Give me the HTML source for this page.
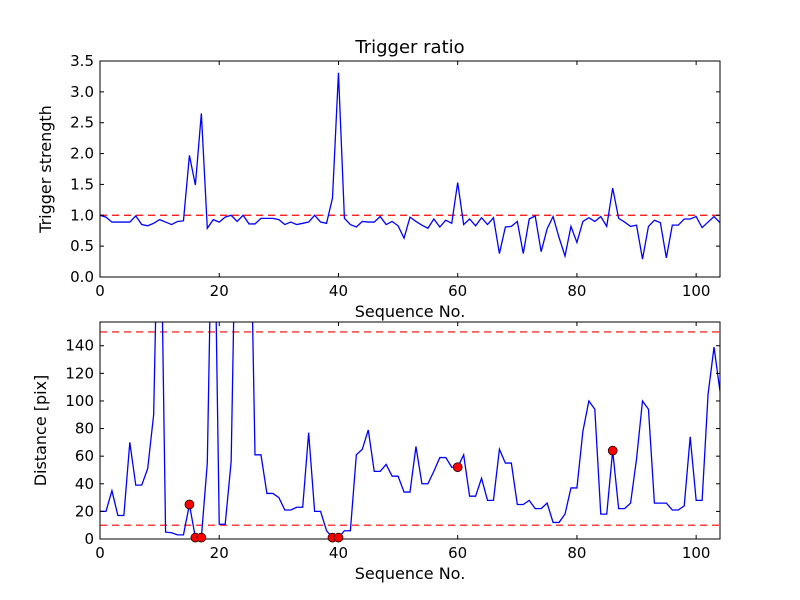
<!DOCTYPE html>
<html><head><meta charset="utf-8"><style>
body{margin:0;background:#fff;}
svg{display:block;font-family:"DejaVu Sans","Liberation Sans",sans-serif;}
</style></head><body>
<svg id="chart" width="800" height="600" viewBox="0 0 800 600">
<defs>
<clipPath id="clipTop"><rect x="100" y="61" width="620" height="216"/></clipPath>
<clipPath id="clipBot"><rect x="100" y="322" width="620" height="217"/></clipPath>
</defs>
<rect width="800" height="600" fill="#fff"/>
<text x="410" y="53" font-size="18" text-anchor="middle">Trigger ratio</text>
<g id="top"></g>
<g id="bot"></g>
</svg>
<script>
const xMax = 104;
const trigger = [1.0,0.97,0.89,0.89,0.89,0.89,0.99,0.85,0.83,0.87,0.93,0.89,0.85,0.9,0.91,1.97,1.49,2.65,0.79,0.93,
0.89,0.97,1.0,0.9,1.0,0.86,0.86,0.95,0.95,0.95,0.93,0.85,0.89,0.85,0.87,0.89,1.0,0.89,0.87,1.28,
3.31,0.95,0.85,0.81,0.9,0.89,0.89,0.98,0.85,0.9,0.83,0.63,0.97,0.9,0.84,0.79,0.94,0.81,0.92,0.87,
1.53,0.85,0.94,0.83,0.96,0.85,0.96,0.38,0.81,0.82,0.9,0.38,0.94,0.99,0.41,0.78,0.98,0.64,0.34,0.82,
0.56,0.9,0.96,0.9,0.98,0.82,1.44,0.95,0.89,0.82,0.84,0.29,0.82,0.92,0.88,0.31,0.84,0.84,0.94,0.94,
0.98,0.8,0.89,0.98,0.88];
const distance = [20,20,35,17,17,70,39,39,51,90,300,5,4.5,3,3,25,1,1,55,300,
10.7,10.7,56,300,300,300,61,61,33,33,30,21,21,23,23,77,20,20,6,1,
1,6,6,61,65,79,49,49,54,45.5,45.5,34,34,67,40,40,49,59,59,52,
52,61,31,31,44,28,28,65,55,55,25,25,28,22,22,26,12,12,18,37,
37,78,100,94,18,18,64,22,22,26,58,100,94,26,26,26,21,21,24,74,
28,28,105,139,107];
const triggerIdx = [15,16,17,39,40,60,86];
const topYTicks = ["0.0","0.5","1.0","1.5","2.0","2.5","3.0","3.5"];
const botYTicks = ["0","20","40","60","80","100","120","140"];
const xTicks = ["0","20","40","60","80","100"];
const triggerThreshold = [1.0];
const distThresholds = [10,150];

const NS="http://www.w3.org/2000/svg";
function mk(tag,attrs,parent){const e=document.createElementNS(NS,tag);for(const k in attrs)e.setAttribute(k,attrs[k]);parent.appendChild(e);return e;}

function panel(g,box,yMax,yTickLabels,series,thresholds,clip,ylabel,ylabelX,prefix){
  const sx=v=>box.x+v/xMax*box.w;
  const sy=v=>box.y+box.h-v/yMax*box.h;
  thresholds.forEach(t=>{
    const l=mk('line',{x1:box.x,x2:box.x+box.w,y1:sy(t),y2:sy(t),stroke:'#ff0000','stroke-width':1.2,'stroke-dasharray':'7,5','clip-path':'url(#'+clip+')'},g);
    
    
  });
  const pts=series.map((v,i)=>sx(i).toFixed(2)+','+sy(v).toFixed(2)).join(' ');
  const pl=mk('polyline',{points:pts,fill:'none',stroke:'#0000ff','stroke-width':1.3,'clip-path':'url(#'+clip+')'},g);
  
  
  const fr=mk('rect',{x:box.x,y:box.y,width:box.w,height:box.h,fill:'none',stroke:'#000','stroke-width':1},g);
  
  
  xTicks.forEach(t=>{
    const x=sx(+t);
    mk('line',{x1:x,x2:x,y1:box.y+box.h,y2:box.y+box.h-4,stroke:'#000'},g);
    mk('line',{x1:x,x2:x,y1:box.y,y2:box.y+4,stroke:'#000'},g);
    const tx=mk('text',{x:x,y:box.y+box.h+19,'font-size':15,'text-anchor':'middle'},g);
    tx.textContent=t;
    
    
  });
  yTickLabels.forEach(t=>{
    const y=sy(+t);
    mk('line',{x1:box.x,x2:box.x+4,y1:y,y2:y,stroke:'#000'},g);
    mk('line',{x1:box.x+box.w,x2:box.x+box.w-4,y1:y,y2:y,stroke:'#000'},g);
    const tx=mk('text',{x:box.x-6,y:y+5,'font-size':15,'text-anchor':'end'},g);
    tx.textContent=t;
    
    
  });
  const xl=mk('text',{x:box.x+box.w/2,y:box.y+box.h+40,'font-size':16,'text-anchor':'middle'},g);
  xl.textContent='Sequence No.';
  
  
  const yl=mk('text',{x:0,y:0,'font-size':16,'text-anchor':'middle',transform:'translate('+ylabelX+','+(box.y+box.h/2)+') rotate(-90)'},g);
  yl.textContent=ylabel;
  
  
  return {sx,sy};
}
const gt=document.getElementById('top'), gb=document.getElementById('bot');
panel(gt,{x:100,y:61,w:620,h:216},3.5,topYTicks,trigger,triggerThreshold,'clipTop','Trigger strength',51,'top');
const b=panel(gb,{x:100,y:322,w:620,h:217},157.2,botYTicks,distance,distThresholds,'clipBot','Distance [pix]',46,'bottom');
triggerIdx.forEach(i=>{
  const c=mk('circle',{cx:b.sx(i),cy:b.sy(distance[i]),r:4.5,fill:'#ff0000',stroke:'#000','stroke-width':0.7},gb);
  
  
});
</script>
</body></html>
